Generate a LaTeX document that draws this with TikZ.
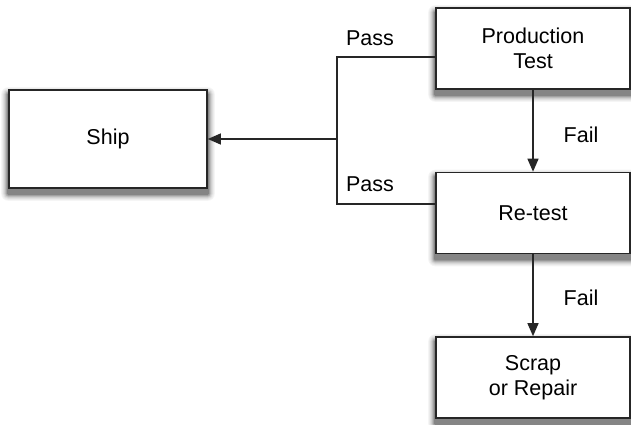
\documentclass[tikz,border=0pt]{standalone}
\usepackage{fontspec}
\setmainfont{Liberation Sans}
\usetikzlibrary{arrows.meta}
\usetikzlibrary{positioning}
\usetikzlibrary{backgrounds}

\begin{document}
\begin{tikzpicture}[
x=1pt, y=-1pt,
stage/.style={
draw=black!85,
line width=1.6pt,
fill=white,
minimum width=194pt,
minimum height=81pt,
align=center,
font=\fontsize{21.5}{24.5}\selectfont
},
link/.style={line width=1.3pt, black!85},
tag/.style={font=\fontsize{21.5}{24.5}\selectfont}
]
\useasboundingbox (0,0) rectangle (631,425);

\node[stage, minimum width=198pt, minimum height=98pt] (ship) at (108,139) {Ship};
\node[stage] (prod)   at (533,48.5)  {Production\\Test};
\node[stage] (retest) at (533,213)   {Re-test};
\node[stage] (scrap)  at (533,377.5) {Scrap\\or Repair};

% soft shadows under the boxes
\begin{scope}[on background layer]
\foreach \n in {ship,prod,retest,scrap}{
  \foreach \g/\d in {4/7,8/6,13/5,19/4,27/3,37/2,48/1}{
    \fill[black!\g, rounded corners=\d pt]
      ([xshift=-\d pt,yshift=-5pt-\d pt]\n.south west)
      rectangle ([xshift=\d pt,yshift=-5pt+\d pt]\n.north east);
  }
}
\end{scope}

\coordinate (split) at (337,139);

\draw[link] ([yshift=-8.5pt]prod.west) -| (split);
\draw[link] ([yshift=9pt]retest.west) -| (split);
\draw[link, -{Triangle[length=13pt,width=11pt]}] (split) -- (ship.east);
\draw[link, -{Triangle[length=13pt,width=11pt]}] (prod) -- (retest);
\draw[link, -{Triangle[length=13pt,width=11pt]}] (retest) -- (scrap);

\node[tag] (pass1) at (370,38)  {Pass};
\node[tag] (pass2) at (370,184) {Pass};
\node[tag] (fail1) at (581,135) {Fail};
\node[tag] (fail2) at (581,298) {Fail};

\end{tikzpicture}
\end{document}
